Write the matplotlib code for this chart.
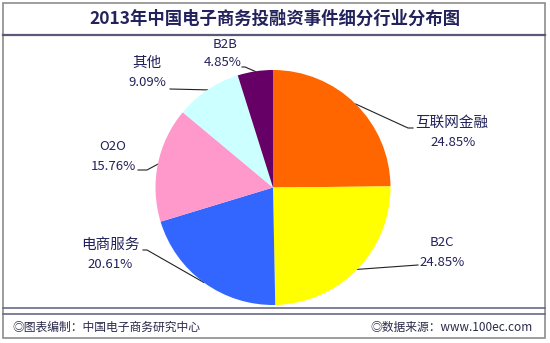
import numpy as np
import matplotlib.pyplot as plt
from matplotlib.patches import Rectangle

plt.rcParams['font.family'] = ['Noto Sans CJK SC', 'DejaVu Sans']

title = '2013年中国电子商务投融资事件细分行业分布图'
labels = ['互联网金融', 'B2C', '电商服务', 'O2O', '其他', 'B2B']
shares = [24.85, 24.85, 20.61, 15.76, 9.09, 4.85]
colors = ['#FF6600', '#FFFF00', '#3366FF', '#FF99CC', '#CCFFFF', '#660066']
footer_left = '◎图表编制：中国电子商务研究中心'
footer_right = '◎数据来源：www.100ec.com'

W, H = 550, 343
fig = plt.figure(figsize=(W / 100, H / 100), dpi=100)
fig.patch.set_facecolor('white')

# overlay in pixel coords (y down)
ov = fig.add_axes([0, 0, 1, 1])
ov.set_xlim(0, W)
ov.set_ylim(H, 0)
ov.axis('off')

# pie geometry in pixels
cx, cy, r = 273, 187.5, 117.5
pax = fig.add_axes([(cx - r) / W, (H - cy - r) / H, 2 * r / W, 2 * r / H])
wedges, _ = pax.pie(shares, colors=colors, startangle=90, counterclock=False,
                    radius=1, wedgeprops=dict(linewidth=0))
pax.set_xlim(-1, 1)
pax.set_ylim(-1, 1)
pax.axis('off')

# frame
navy = '#22225C'
ov.add_patch(Rectangle((3, 3), 542, 335, fill=False, edgecolor='#8C8C8C', lw=1.2))
ov.plot([3, 545], [35, 35], color='#5A5A78', lw=1.6)
ov.plot([3, 545], [307.7, 307.7], color='#6A6A88', lw=1.2)
ov.plot([3, 545], [314.3, 314.3], color='#6A6A88', lw=1.2)

ov.text(275, 19, title, ha='center', va='center', fontsize=12.5,
        fontweight='bold', color=navy)

# label layout: (name xy, pct xy, leader path after the wedge point)
layout = {
    '互联网金融': ((452, 123), (453, 143), [(408, 128), (413, 128)]),
    'B2C': ((442, 243), (442, 263), [(418, 265)]),
    '电商服务': ((110, 245), (110, 264), [(147, 250), (143, 250)]),
    'O2O': ((113, 147), (113, 166), [(147, 170), (138, 170)]),
    '其他': ((147, 63), (147, 83), [(170, 89)]),
    'B2B': ((225, 45), (223, 63), [(245, 67), (242, 67)]),
}

for w, lab, val in zip(wedges, labels, shares):
    ang = np.deg2rad((w.theta1 + w.theta2) / 2)
    px, py = cx + r * np.cos(ang), cy - r * np.sin(ang)
    (nx, ny), (tx, ty), path = layout[lab]
    xs = [px] + [p[0] for p in path]
    ys = [py] + [p[1] for p in path]
    ov.plot(xs, ys, color='#222222', lw=0.8)
    fs = 9.5 if lab in ('B2C', 'B2B', 'O2O') else 10.5
    ov.text(nx, ny, lab, ha='center', va='center', fontsize=fs, color=navy)
    ov.text(tx, ty, f'{val:.2f}%', ha='center', va='center', fontsize=9.5, color=navy)

ov.text(12, 327.5, footer_left, ha='left', va='center', fontsize=8.5, color='#2A2A4A')
ov.text(370, 327.5, footer_right, ha='left', va='center', fontsize=8.5, color='#2A2A4A')

fig.savefig('out.png', dpi=100, facecolor='white')
